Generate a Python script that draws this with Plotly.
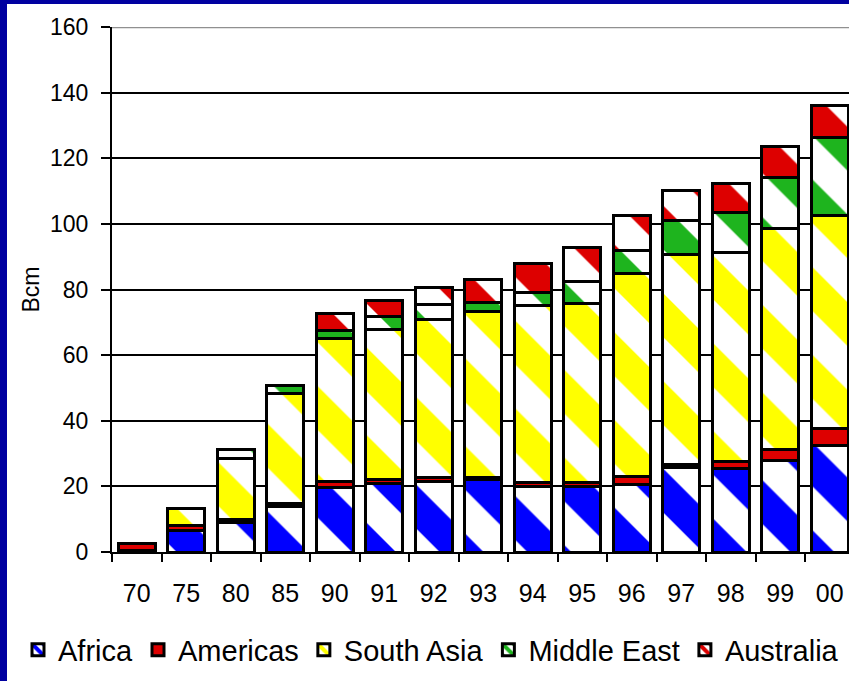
import plotly.graph_objects as go

# Gas consumption by supplying region, Bcm
years = ["70", "75", "80", "85", "90", "91", "92", "93", "94", "95", "96", "97", "98", "99", "00"]
africa = [0.6, 6.7, 9.0, 13.9, 19.7, 20.9, 21.6, 22.1, 19.9, 19.9, 20.7, 25.7, 25.5, 28.0, 32.6]
americas = [2.0, 1.5, 1.0, 1.0, 1.7, 1.2, 1.2, 0.6, 1.2, 1.2, 2.2, 1.1, 2.2, 3.1, 5.1]
south_asia = [0, 5.0, 18.6, 33.5, 43.7, 45.6, 48.1, 50.7, 54.0, 54.7, 62.0, 63.8, 63.5, 67.5, 65.0]
middle_east = [0, 0, 2.5, 2.2, 2.5, 4.0, 4.4, 2.6, 4.0, 6.5, 7.1, 10.5, 12.2, 15.5, 23.6]
australia = [0, 0, 0, 0, 5.1, 4.9, 5.4, 7.1, 8.9, 10.6, 10.7, 9.0, 8.9, 9.6, 9.7]

series = [
    ("Africa", africa, "#0000FF", "\\"),
    ("Americas", americas, "#DD0000", ""),
    ("South Asia", south_asia, "#FFFF00", "\\"),
    ("Middle East", middle_east, "#1EB41E", "\\"),
    ("Australia", australia, "#DD0000", "\\"),
]

FONT = "Liberation Sans, Arial, sans-serif"

fig = go.Figure()
for name, vals, col, shape in series:
    if shape:
        marker = dict(
            color="white",
            pattern=dict(shape=shape, fgcolor=col, bgcolor="white",
                         size=62, solidity=0.5, fillmode="replace"),
            line=dict(color="black", width=3),
        )
    else:
        marker = dict(color=col, line=dict(color="black", width=3))
    fig.add_trace(go.Bar(x=years, y=vals, name=name, marker=marker))

W, H = 849, 681
L, R, T, B = 112, 0, 27, 129
pw, ph = W - L - R, H - T - B
cat_px = 49.5


def px_x(p):
    return (p - L) / pw


def px_y(p):
    return (H - B - p) / ph


fig.update_layout(
    width=W, height=H,
    margin=dict(l=L, r=R, t=T, b=B, autoexpand=False),
    barmode="stack", bargap=0.25,
    paper_bgcolor="white", plot_bgcolor="white",
    font=dict(family=FONT, color="black"),
    showlegend=True,
    legend=dict(
        orientation="h", x=px_x(18), xanchor="left", y=px_y(650), yanchor="middle",
        font=dict(size=29, family=FONT, color="black"), traceorder="normal",
        bgcolor="rgba(0,0,0,0)",
    ),
    xaxis=dict(
        type="category", range=[-0.5, -0.5 + pw / cat_px],
        showline=True, linecolor="black", linewidth=2,
        ticks="outside", tickson="boundaries", ticklen=8, tickwidth=2, tickcolor="black",
        tickfont=dict(size=25, family=FONT), ticklabelstandoff=18,
        showgrid=False, fixedrange=True,
    ),
    yaxis=dict(
        range=[0, 160], dtick=20,
        showline=True, linecolor="black", linewidth=2,
        ticks="outside", ticklen=9, tickwidth=2, tickcolor="black",
        tickfont=dict(size=23, family=FONT), ticklabelstandoff=8,
        showgrid=True, gridcolor="black", gridwidth=1.5,
        zeroline=False,
    ),
    annotations=[dict(
        text="Bcm", textangle=-90, xref="paper", yref="paper",
        x=px_x(30), y=0.5, xanchor="center", yanchor="middle", showarrow=False,
        font=dict(size=23, family=FONT, color="black"),
    )],
    shapes=[
        # top gridline drawn lighter
        dict(type="line", xref="paper", yref="y", x0=0, x1=1, y0=160, y1=160,
             line=dict(color="#909090", width=2.5)),
        # dark blue frame on the left and top edges
        dict(type="rect", xref="paper", yref="paper", x0=px_x(0), x1=px_x(7),
             y0=px_y(H + 2), y1=px_y(-2), fillcolor="#0000A0", line=dict(width=0)),
        dict(type="rect", xref="paper", yref="paper", x0=px_x(0), x1=px_x(W + 2),
             y0=px_y(4), y1=px_y(-2), fillcolor="#0000A0", line=dict(width=0)),
    ],
)

fig.write_html("out.html")
